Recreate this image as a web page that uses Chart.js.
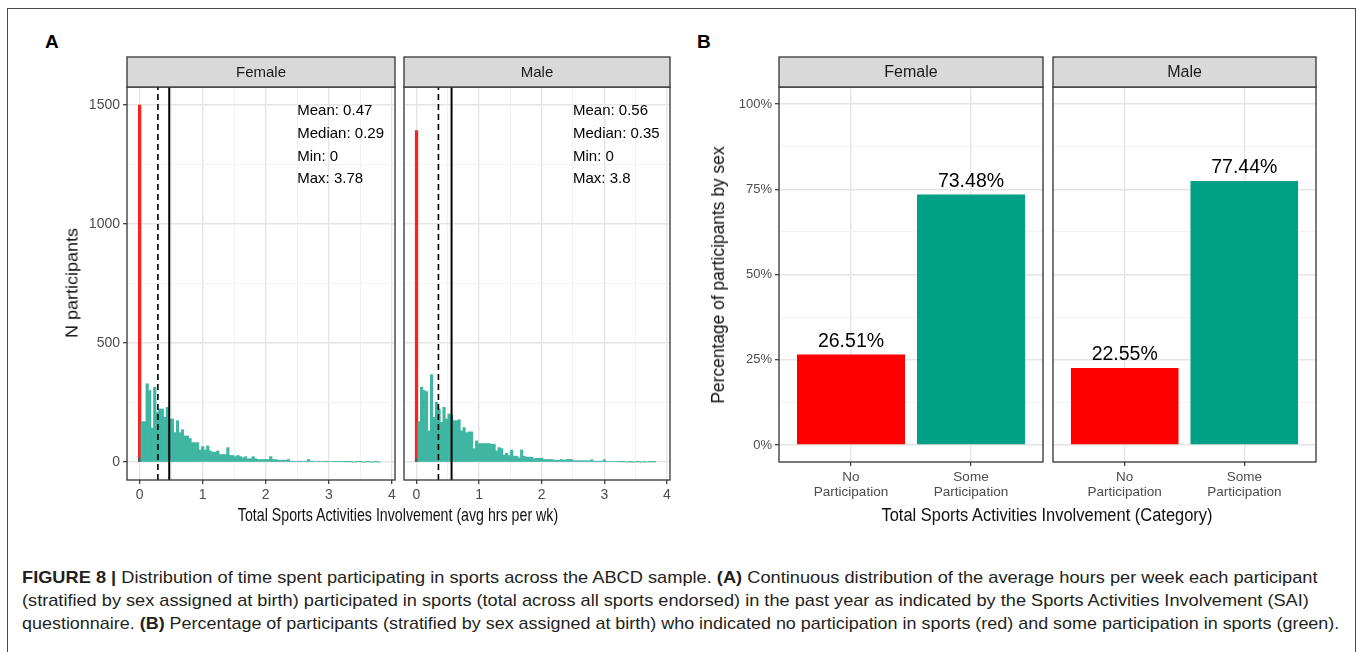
<!DOCTYPE html>
<html>
<head>
<meta charset="utf-8">
<script src="https://cdn.jsdelivr.net/npm/chart.js@4.4.1/dist/chart.umd.min.js"></script>
<style>
html,body{margin:0;padding:0;background:#fff;}
#wrap{position:relative;width:1357px;height:652px;overflow:hidden;background:#fff;font-family:'Liberation Sans',Arial,sans-serif;color:#000;}
#frame{position:absolute;left:7px;top:8px;width:1349px;height:720px;border:1.5px solid #4a4a4a;box-sizing:border-box;}
canvas{position:absolute;}
.t{position:absolute;white-space:nowrap;line-height:1;color:#111;}
.cap{position:absolute;left:22px;white-space:nowrap;font-family:'Liberation Sans Narrow','Liberation Sans',Arial,sans-serif;font-size:17px;color:#231f20;transform-origin:0 50%;line-height:1;}
</style>
</head>
<body>
<div id="wrap">
  <div id="frame"></div>
  <div class="t" style="left:45px;top:32px;font-size:19px;font-weight:bold;color:#000;">A</div>
  <div class="t" style="left:697px;top:32px;font-size:19px;font-weight:bold;color:#000;">B</div>
  <canvas id="aF" width="345" height="460" style="left:60px;top:50px"></canvas>
  <canvas id="aM" width="284" height="460" style="left:396px;top:50px"></canvas>
  <canvas id="bF" width="350" height="450" style="left:700px;top:50px"></canvas>
  <canvas id="bM" width="280" height="450" style="left:1045px;top:50px"></canvas>
  <div class="t fit" data-w="320" data-rot="0" style="left:398px;top:515px;font-size:18.5px;">Total Sports Activities Involvement (avg hrs per wk)</div>
  <div class="t fit" data-w="110" data-rot="1" style="left:72px;top:283px;font-size:17px;">N participants</div>
  <div class="t fit" data-w="257" data-rot="1" style="left:718px;top:275px;font-size:18px;">Percentage of participants by sex</div>
  <div class="t fit" data-w="331" data-rot="0" style="left:1047px;top:515px;font-size:18px;">Total Sports Activities Involvement (Category)</div>
  <div class="cap" data-w="1296" style="top:569px"><b>FIGURE 8 |</b> Distribution of time spent participating in sports across the ABCD sample. <b>(A)</b> Continuous distribution of the average hours per week each participant</div>
  <div class="cap" data-w="1287" style="top:592px">(stratified by sex assigned at birth) participated in sports (total across all sports endorsed) in the past year as indicated by the Sports Activities Involvement (SAI)</div>
  <div class="cap" data-w="1317" style="top:615px">questionnaire. <b>(B)</b> Percentage of participants (stratified by sex assigned at birth) who indicated no participation in sports (red) and some participation in sports (green).</div>
</div>
<script>
// ---------------- DATA ----------------
const binWidth = 0.04; // histogram bin width (hrs per wk)
const femaleCounts = [15,170,170,329,301,143,315,209,223,223,
  188,230,181,181,124,174,124,136,110,110,
  99,82,82,82,51,65,51,68,47,42,
  42,47,32,32,32,61,28,28,23,28,
  23,18,23,14,14,23,14,11,11,11,
  11,11,23,11,11,8,8,8,8,11,
  4,4,3,4,4,3,4,11,4,4,
  3,4,3,3,4,3,3,2,2,3,
  2,2,1,2,1,0,1,2,1,0,
  1,1,0,1,1,0];
const maleCounts = [15,170,315,301,296,131,367,188,251,223,
  167,230,181,202,198,174,174,178,131,145,
  124,127,127,57,89,78,78,78,78,78,
  75,75,47,61,57,30,37,28,51,25,
  25,18,51,25,21,21,21,14,16,16,
  16,11,11,11,11,8,8,8,11,8,
  11,11,11,6,6,6,6,6,6,6,
  10,4,4,4,4,10,3,3,3,3,
  3,2,1,2,0,1,1,0,1,1,
  0,1,0,1,1,1];
const femaleZeroCount = 1500;
const maleZeroCount = 1393;
const femaleMeanMedian = [0.47, 0.29];
const maleMeanMedian = [0.56, 0.35];
const femaleStatLabels = ['Mean: 0.47', 'Median: 0.29', 'Min: 0', 'Max: 3.78'];
const maleStatLabels = ['Mean: 0.56', 'Median: 0.35', 'Min: 0', 'Max: 3.8'];
const xTicksA = [0, 1, 2, 3, 4];
const yTicksA = [0, 500, 1000, 1500];

const categoriesB = [['No', 'Participation'], ['Some', 'Participation']];
const femalePct = [26.51, 73.48];
const malePct = [22.55, 77.44];
const femalePctLabels = ['26.51%', '73.48%'];
const malePctLabels = ['22.55%', '77.44%'];
const yTicksB = [0, 25, 50, 75, 100];
const yTickLabelsB = ['0%', '25%', '50%', '75%', '100%'];

// ---------------- STYLE ----------------
const FONT = "'Liberation Sans', Arial, sans-serif";
Chart.defaults.font.family = FONT;
const TEAL_H = '#3fb6a2';
const TEAL_B = '#00a087';
const RED = '#ff0000';
const withMinor = arr => {
  const out = [];
  arr.forEach((v, i) => { out.push(v); if (i < arr.length - 1) out.push((v + arr[i + 1]) / 2); });
  return out;
};
const gridOpts = (major) => ({
  offset: false,
  color: c => (c.tick && major.includes(c.tick.value)) ? '#e5e5e5' : '#f0f0f0',
  lineWidth: c => (c.tick && major.includes(c.tick.value)) ? 1.4 : 0.9,
  tickColor: c => (c.tick && major.includes(c.tick.value)) ? '#333333' : 'rgba(0,0,0,0)',
  tickLength: 4,
  tickWidth: 1.2,
  drawTicks: true
});

const facetPlugin = {
  id: 'facet',
  afterDraw(chart, args, o) {
    const {ctx, chartArea: a} = chart;
    ctx.save();
    ctx.strokeStyle = '#333';
    ctx.lineWidth = 1.3;
    ctx.strokeRect(a.left, a.top, a.right - a.left, a.bottom - a.top);
    ctx.fillStyle = '#d9d9d9';
    ctx.fillRect(a.left, a.top - o.stripH, a.right - a.left, o.stripH);
    ctx.strokeRect(a.left, a.top - o.stripH, a.right - a.left, o.stripH);
    ctx.fillStyle = '#1a1a1a';
    ctx.font = o.stripFont;
    ctx.textAlign = 'center';
    ctx.textBaseline = 'middle';
    ctx.fillText(o.strip, (a.left + a.right) / 2, a.top - o.stripH / 2 + 1);
    // stat annotations
    if (o.stats) {
      const xs = chart.scales.x, ys = chart.scales.y;
      ctx.fillStyle = '#000';
      ctx.font = o.statFont;
      ctx.textAlign = 'left';
      const x0 = xs.getPixelForValue(o.statX);
      const y0 = ys.getPixelForValue(o.statY);
      o.stats.forEach((s, i) => ctx.fillText(s, x0, y0 + 6 + i * 22.8));
    }
    // bar value labels
    if (o.valueLabels) {
      const meta = chart.getDatasetMeta(0);
      ctx.fillStyle = '#000';
      ctx.font = o.valueFont;
      ctx.textAlign = 'center';
      meta.data.forEach((el, i) => ctx.fillText(o.valueLabels[i], el.x, el.y - 13));
    }
    ctx.restore();
  }
};

const yLimA = [-75, 1575];
function histChart(id, counts, zeroCount, meanMedian, stats, strip, showY) {
  const xAll = withMinor(xTicksA), yAll = withMinor(yTicksA);
  return new Chart(document.getElementById(id), {
    type: 'bar',
    data: {
      datasets: [
        {type: 'line', data: [{x: meanMedian[1], y: yLimA[0]}, {x: meanMedian[1], y: yLimA[1]}],
          borderColor: '#000', borderWidth: 1.6, borderDash: [6, 4], pointRadius: 0, order: -2},
        {type: 'line', data: [{x: meanMedian[0], y: yLimA[0]}, {x: meanMedian[0], y: yLimA[1]}],
          borderColor: '#000', borderWidth: 2, pointRadius: 0, order: -1},
        {data: counts.map((c, k) => ({x: k * binWidth, y: c})),
          backgroundColor: counts.map((c, k) => k === 0 ? '#4a6456' : TEAL_H),
          grouped: false, barPercentage: 1, categoryPercentage: 1, borderWidth: 0, order: 0},
        {data: [{x: 0, y: zeroCount}], backgroundColor: '#ff1f1f',
          grouped: false, barPercentage: 1.3, categoryPercentage: 1, borderWidth: 0, order: 1}
      ]
    },
    options: {
      responsive: false, maintainAspectRatio: false, animation: false,
      events: [],
      layout: {padding: {top: 37, right: 10, left: 0, bottom: 0}},
      plugins: {
        legend: {display: false}, tooltip: {enabled: false},
        facet: {strip, stripH: 30, stripFont: "15px " + FONT, stats, statX: 2.5, statY: 1500, statFont: "15px " + FONT}
      },
      scales: {
        x: {
          type: 'linear', min: -0.2, max: 4.05, offset: false,
          afterBuildTicks: ax => { ax.ticks = xAll.map(v => ({value: v})); },
          afterFit: s => { s.height = 30; },
          ticks: {autoSkip: false, maxRotation: 0, minRotation: 0, padding: 3, color: '#4d4d4d',
            font: {size: 14}, callback: v => xTicksA.includes(v) ? String(v) : ''},
          grid: gridOpts(xTicksA),
          border: {display: false}
        },
        y: {
          min: yLimA[0], max: yLimA[1],
          afterBuildTicks: ax => { ax.ticks = yAll.map(v => ({value: v})); },
          afterFit: s => { s.width = showY ? 67 : 8; },
          ticks: {display: showY, autoSkip: false, padding: 3, color: '#4d4d4d',
            font: {size: 14}, callback: v => yTicksA.includes(v) ? String(v) : ''},
          grid: Object.assign(gridOpts(yTicksA), {drawTicks: showY}),
          border: {display: false}
        }
      }
    },
    plugins: [facetPlugin]
  });
}

function pctChart(id, values, labels, strip, showY, padRight) {
  const yAll = withMinor(yTicksB);
  const idx = categoriesB.map((c, i) => i);
  return new Chart(document.getElementById(id), {
    type: 'bar',
    data: {
      datasets: [{
        data: values.map((v, i) => ({x: i, y: v})),
        backgroundColor: [RED, TEAL_B], borderWidth: 0,
        barPercentage: 0.9, categoryPercentage: 1, grouped: false
      }]
    },
    options: {
      responsive: false, maintainAspectRatio: false, animation: false,
      events: [],
      layout: {padding: {top: 37, right: padRight, left: 0, bottom: 0}},
      plugins: {
        legend: {display: false}, tooltip: {enabled: false},
        facet: {strip, stripH: 30, stripFont: "16px " + FONT, valueLabels: labels, valueFont: "19.5px " + FONT}
      },
      scales: {
        x: {
          type: 'linear', min: -0.6, max: 1.6, offset: false,
          afterBuildTicks: ax => { ax.ticks = idx.map(v => ({value: v})); },
          afterFit: s => { s.height = 38; },
          ticks: {autoSkip: false, maxRotation: 0, minRotation: 0, padding: 4, color: '#4d4d4d',
            font: {size: 13.5, lineHeight: 1.12}, callback: v => categoriesB[v]},
          grid: gridOpts(idx),
          border: {display: false}
        },
        y: {
          min: -5, max: 105,
          afterBuildTicks: ax => { ax.ticks = yAll.map(v => ({value: v})); },
          afterFit: s => { s.width = showY ? 79 : 8; },
          ticks: {display: showY, autoSkip: false, padding: 3, color: '#4d4d4d',
            font: {size: 13}, callback: v => { const i = yTicksB.indexOf(v); return i >= 0 ? yTickLabelsB[i] : ''; }},
          grid: Object.assign(gridOpts(yTicksB), {drawTicks: showY}),
          border: {display: false}
        }
      }
    },
    plugins: [facetPlugin]
  });
}

histChart('aF', femaleCounts, femaleZeroCount, femaleMeanMedian, femaleStatLabels, 'Female', true);
histChart('aM', maleCounts, maleZeroCount, maleMeanMedian, maleStatLabels, 'Male', false);
pctChart('bF', femalePct, femalePctLabels, 'Female', true, 7);
pctChart('bM', malePct, malePctLabels, 'Male', false, 9);

function fitText() {
  document.querySelectorAll('.fit').forEach(el => {
    el.style.transform = 'none';
    const w = el.offsetWidth;
    const k = (+el.dataset.w) / w;
    el.style.transform = el.dataset.rot === '1'
      ? `translate(-50%,-50%) rotate(-90deg) scaleX(${k})`
      : `translate(-50%,-50%) scaleX(${k})`;
  });
  document.querySelectorAll('.cap').forEach(el => {
    el.style.transform = 'none';
    const k = (+el.dataset.w) / el.offsetWidth;
    el.style.transform = `scaleX(${k})`;
  });
}
fitText();
if (document.fonts && document.fonts.ready) document.fonts.ready.then(fitText);
</script>
</body>
</html>
